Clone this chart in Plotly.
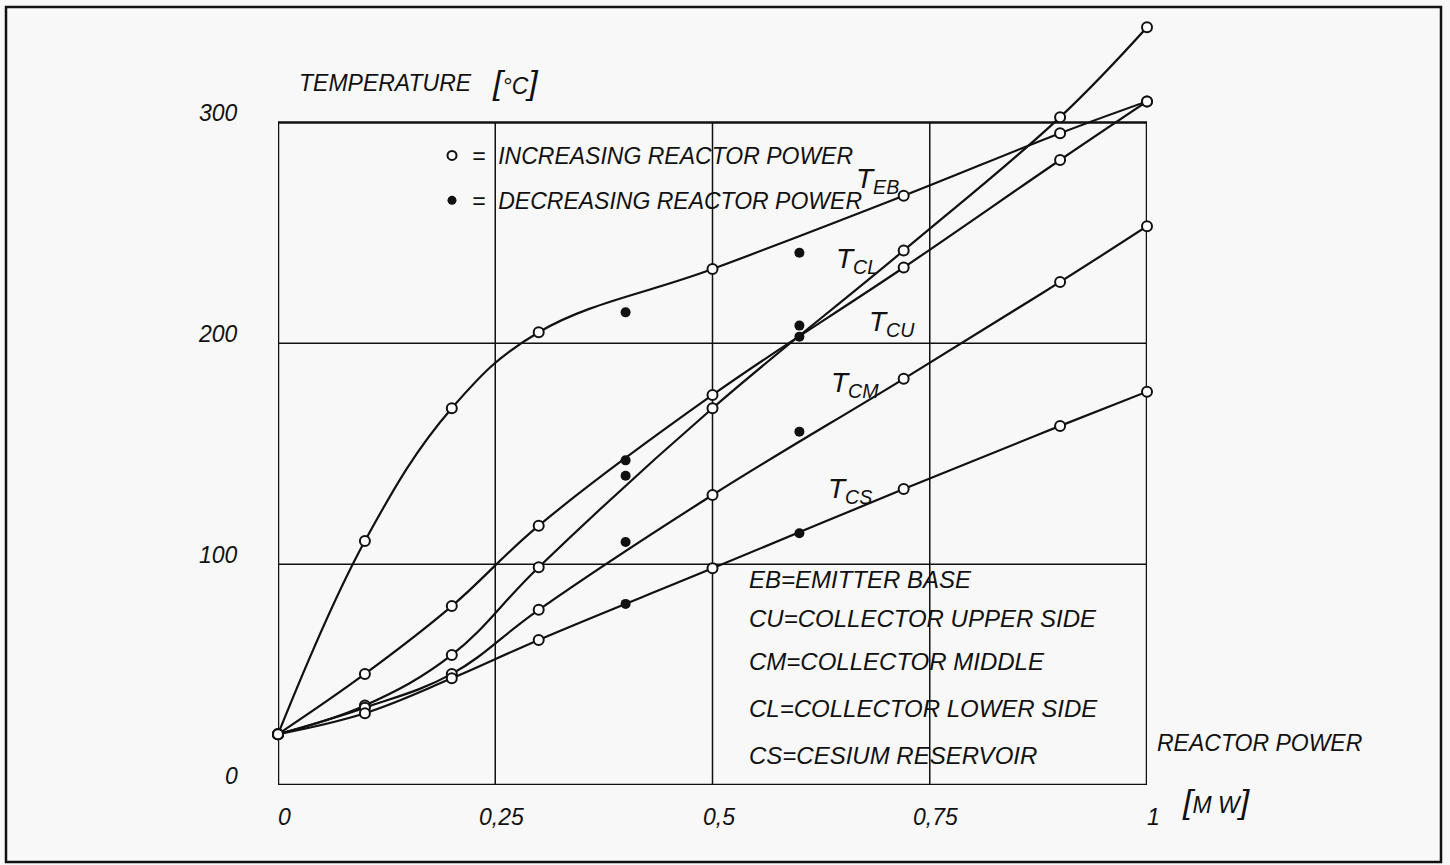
import plotly.graph_objects as go

# ---------------- data ----------------
power = [0, 0.1, 0.2, 0.3, 0.5, 0.72, 0.9, 1.0]          # MW, increasing power runs
t_eb = [23, 110.5, 170.6, 205.0, 233.6, 266.8, 295.1, 309.5]
t_cl = [23, 36.0, 58.9, 98.6, 170.6, 242.0, 302.4, 343.1]
t_cu = [23, 50.3, 81.0, 117.4, 176.6, 234.3, 283.0, 309.5]
t_cm = [23, 35.0, 50.3, 79.3, 131.3, 183.9, 227.8, 253.0]
t_cs = [23, 32.5, 48.3, 65.7, 98.1, 134.0, 162.6, 178.1]

power_dec = [0.4, 0.6]                                      # MW, decreasing power runs
t_eb_dec = [214, 241]
t_cu_dec = [147, 208]
t_cl_dec = [140, 203]
t_cm_dec = [110, 160]
t_cs_dec = [82, 114]

series_keys = ["EB", "CL", "CU", "CM", "CS"]

x_ticks = [0, 0.25, 0.5, 0.75, 1]
x_tick_labels = ["0", "0,25", "0,5", "0,75", "1"]
y_ticks = [0, 100, 200, 300]
y_tick_labels = ["0", "100", "200", "300"]

abbreviations = [
    "EB=EMITTER BASE",
    "CU=COLLECTOR UPPER SIDE",
    "CM=COLLECTOR MIDDLE",
    "CL=COLLECTOR LOWER SIDE",
    "CS=CESIUM RESERVOIR",
]
legend_labels = ["=\u00a0 INCREASING REACTOR POWER",
                 "=\u00a0 DECREASING REACTOR POWER"]

# ---------------- geometry / style ----------------
W, H = 1450, 865
L, R, T, B = 278, 303, 12, 80
FONT = "Liberation Sans, Arial, sans-serif"
INK = "#111111"
BG = "#f8f8f8"


def px(x, y):
    """pixel position -> paper coordinates"""
    return (x - L) / (W - L - R), (H - B - y) / (H - T - B)


fig = go.Figure()

inc = {"EB": t_eb, "CL": t_cl, "CU": t_cu, "CM": t_cm, "CS": t_cs}
dec = {"EB": t_eb_dec, "CL": t_cl_dec, "CU": t_cu_dec, "CM": t_cm_dec, "CS": t_cs_dec}

for k in series_keys:
    fig.add_trace(go.Scatter(
        x=power, y=inc[k], mode="lines+markers", name="T" + k,
        line=dict(color=INK, width=2.2, shape="spline", smoothing=1.1),
        marker=dict(symbol="circle", size=10, color="white",
                    line=dict(color=INK, width=2)),
        cliponaxis=False, showlegend=False))
for k in series_keys:
    fig.add_trace(go.Scatter(
        x=power_dec, y=dec[k], mode="markers", name="T" + k + " (decreasing)",
        marker=dict(symbol="circle", size=10, color=INK),
        cliponaxis=False, showlegend=False))

# legend-only traces
fig.add_trace(go.Scatter(x=[None], y=[None], mode="markers", name=legend_labels[0],
                         marker=dict(symbol="circle", size=9, color="white",
                                     line=dict(color=INK, width=2)),
                         legendgroup="a"))
fig.add_trace(go.Scatter(x=[None], y=[None], mode="markers", name=legend_labels[1],
                         marker=dict(symbol="circle", size=9, color=INK),
                         legendgroup="b"))

# ---------------- frame & grid ----------------
shapes = []
for xv in x_ticks[1:-1]:
    shapes.append(dict(type="line", xref="x", yref="y", x0=xv, x1=xv, y0=0, y1=300,
                       line=dict(color=INK, width=1.5), layer="below"))
for yv in y_ticks[1:-1]:
    shapes.append(dict(type="line", xref="x", yref="y", x0=-0.006, x1=1, y0=yv, y1=yv,
                       line=dict(color=INK, width=1.5), layer="below"))
shapes.append(dict(type="rect", xref="x", yref="y", x0=0, x1=1, y0=0, y1=300,
                   line=dict(color=INK, width=2.5), layer="below"))
bx0, by0 = px(6, 862)
bx1, by1 = px(1441, 7)
shapes.append(dict(type="rect", xref="paper", yref="paper", x0=bx0, x1=bx1, y0=by0, y1=by1,
                   line=dict(color=INK, width=2.5), layer="below"))

# ---------------- text ----------------
ann = []
itf = lambda s: dict(family=FONT, size=s, color=INK, style="italic")

for xv, lab in zip(x_ticks, x_tick_labels):
    ann.append(dict(x=xv, y=0, xref="x", yref="y", text=lab, showarrow=False,
                    xanchor="center", yanchor="middle", xshift=6, yshift=-32, font=itf(23)))
for yv, lab in zip(y_ticks, y_tick_labels):
    ann.append(dict(x=0, y=yv, xref="x", yref="y", text=lab, showarrow=False,
                    xanchor="right", yanchor="middle", xshift=-38, yshift=9, font=itf(23)))

big = "<span style='font-size:34px'>%s</span>"
for text, (x, y) in [
    ("TEMPERATURE", (297, 83)),
    ((big % "[") + "°C" + (big % "]"), (490, 82)),
    ("REACTOR POWER", (1155, 743)),
    ((big % "[") + "M\u00a0W" + (big % "]"), (1180, 801)),
]:
    xp, yp = px(x, y)
    ann.append(dict(x=xp, y=yp, xref="paper", yref="paper", text=text, showarrow=False,
                    xanchor="left", yanchor="middle", font=itf(23)))

for text, y in zip(abbreviations, [579, 618, 661, 708, 755]):
    xp, yp = px(747, y)
    ann.append(dict(x=xp, y=yp, xref="paper", yref="paper", text=text, showarrow=False,
                    xanchor="left", yanchor="middle", font=itf(24)))

for k, (x, y) in zip(series_keys, [(877, 180), (857, 260), (892, 323), (855, 384), (850, 490)]):
    xp, yp = px(x, y)
    ann.append(dict(x=xp, y=yp, xref="paper", yref="paper",
                    text="T<sub>%s</sub>" % k, showarrow=False,
                    xanchor="center", yanchor="middle", font=itf(28)))

lx, ly = px(432, 134)
fig.update_layout(
    width=W, height=H,
    margin=dict(l=L, r=R, t=T, b=B),
    paper_bgcolor=BG, plot_bgcolor=BG,
    xaxis=dict(range=[0, 1], visible=False, fixedrange=True),
    yaxis=dict(range=[0, 350], visible=False, fixedrange=True),
    shapes=shapes, annotations=ann,
    showlegend=True, hovermode=False,
    legend=dict(x=lx, y=ly, xanchor="left", yanchor="top", bgcolor="rgba(0,0,0,0)",
                font=itf(23), tracegroupgap=12, traceorder="grouped",
                itemwidth=30),
)

fig.write_html("out.html", config={"displayModeBar": False},
               post_script="document.body.style.margin='0px';")
